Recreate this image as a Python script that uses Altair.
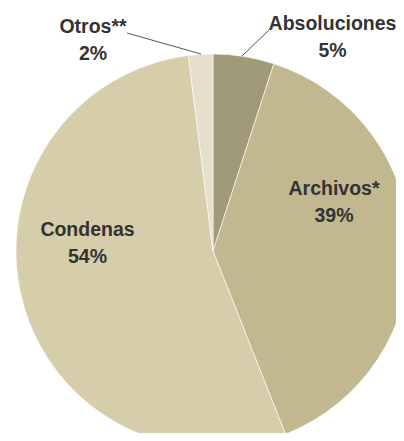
import altair as alt
import pandas as pd

categories = ["Absoluciones", "Archivos*", "Condenas", "Otros**"]
values = [5, 39, 54, 2]
colors = ["#A09A78", "#C1B88F", "#D6CDAA", "#E4DFCA"]

df = pd.DataFrame({"category": categories, "value": values, "order": list(range(len(categories)))})

FONT = "Liberation Sans, Arial, sans-serif"

pie = alt.Chart(df).mark_arc(outerRadius=197, stroke="#ffffff", strokeWidth=0.6).encode(
    theta=alt.Theta("value:Q", stack=True),
    color=alt.Color("category:N", scale=alt.Scale(domain=categories, range=colors), legend=None),
    order=alt.Order("order:Q"),
    x=alt.value(205),
    y=alt.value(243),
)

label_pos = {
    "Absoluciones": (324.5, 22),
    "Archivos*": (326, 187),
    "Condenas": (79.5, 228),
    "Otros**": (85, 25),
}

layers = [pie]
for cat in categories:
    px, py = label_pos[cat]
    layers.append(
        alt.Chart(df)
        .transform_filter(alt.datum.category == cat)
        .transform_calculate(lbl=alt.datum.category + "\n" + alt.datum.value + "%")
        .mark_text(font=FONT, fontSize=19.5, fontWeight="bold", color="#333333",
                   align="center", baseline="alphabetic", lineBreak="\n", lineHeight=27)
        .encode(text="lbl:N", x=alt.value(px), y=alt.value(py))
    )

# leader lines
layers.append(
    alt.Chart(df).transform_filter(alt.datum.category == "Otros**").mark_rule(color="#555555", strokeWidth=1)
    .encode(x=alt.value(119), y=alt.value(25), x2=alt.value(193), y2=alt.value(46))
)
layers.append(
    alt.Chart(df).transform_filter(alt.datum.category == "Absoluciones").mark_rule(color="#555555", strokeWidth=1)
    .encode(x=alt.value(234), y=alt.value(48), x2=alt.value(262), y2=alt.value(21))
)
layers.append(
    alt.Chart(df).transform_filter(alt.datum.category == "Absoluciones").mark_rule(color="#555555", strokeWidth=1)
    .encode(x=alt.value(262), y=alt.value(21), x2=alt.value(264), y2=alt.value(21))
)

chart = alt.layer(*layers).properties(
    width=388, height=425, autosize=alt.AutoSizeParams(type="none"), padding=0
).configure_view(stroke=None)

chart.save("out.html", embed_options={"renderer": "svg", "actions": False})
